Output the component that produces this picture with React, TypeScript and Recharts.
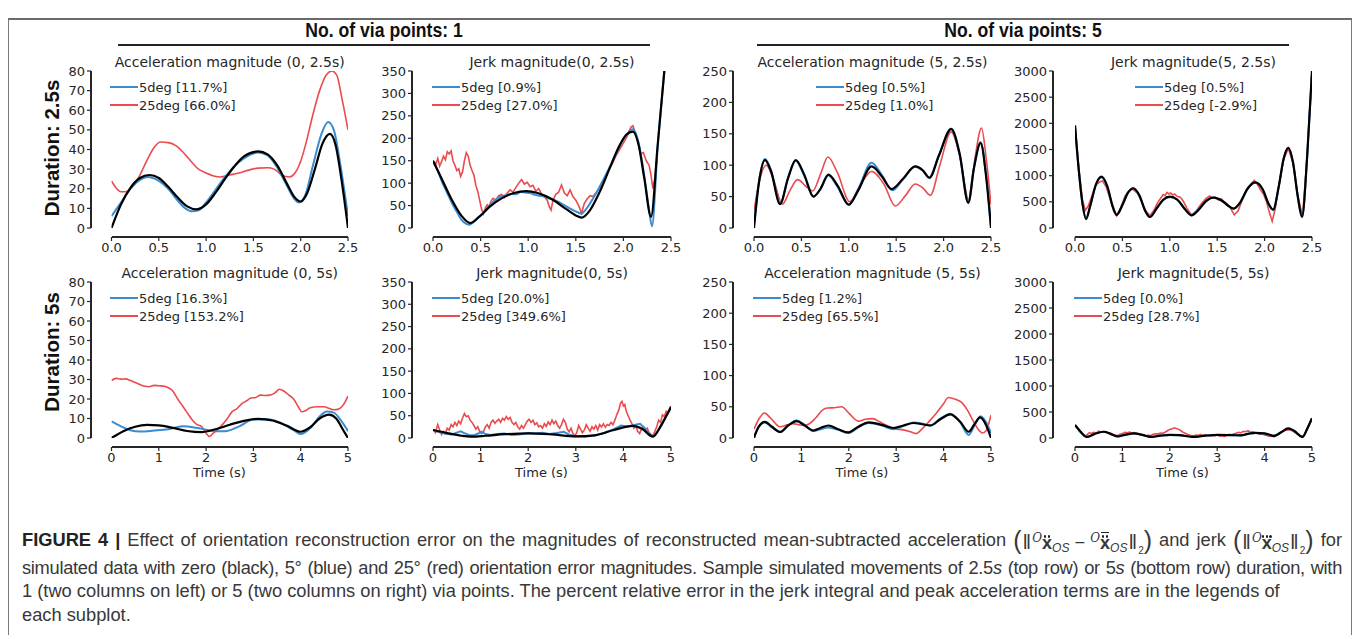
import React from 'react';
import { LineChart, Line, XAxis, YAxis, Legend } from 'recharts';

type Series = [number, number][];

// ---------- text ----------
const panelTitles = [
  'Acceleration magnitude (0, 2.5s)',
  'Jerk magnitude(0, 2.5s)',
  'Acceleration magnitude (5, 2.5s)',
  'Jerk magnitude(5, 2.5s)',
  'Acceleration magnitude (0, 5s)',
  'Jerk magnitude(0, 5s)',
  'Acceleration magnitude (5, 5s)',
  'Jerk magnitude(5, 5s)',
];
const blueLabels = ['5deg [11.7%]', '5deg [0.9%]', '5deg [0.5%]', '5deg [0.5%]', '5deg [16.3%]', '5deg [20.0%]', '5deg [1.2%]', '5deg [0.0%]'];
const redLabels = ['25deg [66.0%]', '25deg [27.0%]', '25deg [1.0%]', '25deg [-2.9%]', '25deg [153.2%]', '25deg [349.6%]', '25deg [65.5%]', '25deg [28.7%]'];
const headers = ['No. of via points: 1', 'No. of via points: 5'];
const rowLabels = ['Duration: 2.5s', 'Duration: 5s'];

// ---------- ticks ----------
const xTicksShort = [0, 0.5, 1, 1.5, 2, 2.5];
const xTicksLong = [0, 1, 2, 3, 4, 5];
const yTicksAcc1 = [0, 10, 20, 30, 40, 50, 60, 70, 80];
const yTicksJerk1 = [0, 50, 100, 150, 200, 250, 300, 350];
const yTicksAcc5 = [0, 50, 100, 150, 200, 250];
const yTicksJerk5 = [0, 500, 1000, 1500, 2000, 2500, 3000];

// ---------- series: [time, value] ----------
// 1 via point, 2.5 s, acceleration
const acc1sZero: Series = [[0, 0], [0.1, 12], [0.2, 20.5], [0.3, 25.5], [0.4, 27], [0.5, 25.5], [0.6, 21], [0.7, 15.5], [0.8, 11], [0.9, 9.5], [1.0, 12], [1.1, 18], [1.2, 25], [1.3, 31.5], [1.4, 36.5], [1.55, 39], [1.65, 37.5], [1.75, 32], [1.85, 23], [1.93, 16], [2.0, 13.5], [2.07, 18], [2.15, 30], [2.23, 43], [2.31, 48], [2.37, 42], [2.43, 25], [2.5, 0]];
const acc1sBlue: Series = [[0, 6], [0.1, 13], [0.2, 20], [0.3, 24.5], [0.38, 26], [0.5, 24], [0.6, 20], [0.7, 14], [0.78, 10], [0.85, 8.5], [0.92, 9], [1.0, 13], [1.1, 19.5], [1.2, 26], [1.3, 31.5], [1.4, 35.5], [1.55, 38.5], [1.65, 37], [1.75, 31], [1.85, 22], [1.93, 15], [1.98, 13], [2.05, 17], [2.13, 32], [2.22, 48], [2.29, 54], [2.35, 50], [2.42, 32], [2.5, 6]];
const acc1sRed: Series = [[0, 24], [0.04, 21], [0.1, 18.5], [0.15, 18.5], [0.22, 21], [0.3, 27], [0.38, 35], [0.45, 41], [0.52, 43.8], [0.6, 43.5], [0.68, 42], [0.76, 38.5], [0.84, 34], [0.92, 30], [1.0, 28], [1.08, 26.5], [1.15, 26], [1.25, 27], [1.35, 28], [1.45, 29.5], [1.55, 30.5], [1.65, 30.7], [1.72, 30], [1.8, 27], [1.88, 26], [1.94, 28], [2.0, 34], [2.06, 44], [2.13, 58], [2.2, 70], [2.27, 78], [2.33, 80], [2.38, 78], [2.44, 65], [2.5, 50]];

// 1 via point, 2.5 s, jerk
const jerk1sZero: Series = [[0, 150], [0.1, 106], [0.2, 62], [0.3, 27], [0.39, 11], [0.48, 24], [0.6, 48], [0.72, 66], [0.85, 78], [0.98, 82], [1.1, 78], [1.25, 64], [1.4, 42], [1.5, 28], [1.56, 23], [1.65, 40], [1.75, 80], [1.85, 130], [1.95, 180], [2.03, 208], [2.1, 215], [2.16, 185], [2.22, 110], [2.29, 25], [2.36, 185], [2.43, 350]];
const jerk1sBlue: Series = [[0, 148], [0.05, 128], [0.1, 100], [0.15, 78], [0.2, 55], [0.25, 36], [0.3, 18], [0.35, 9], [0.38, 7], [0.42, 12], [0.47, 22], [0.52, 32], [0.57, 45], [0.62, 56], [0.67, 65], [0.72, 71], [0.77, 73], [0.82, 76], [0.87, 75], [0.92, 80], [0.97, 79], [1.02, 78], [1.07, 74], [1.12, 72], [1.17, 70], [1.22, 66], [1.27, 63], [1.32, 58], [1.37, 52], [1.42, 46], [1.47, 40], [1.52, 35], [1.56, 32], [1.6, 40], [1.65, 55], [1.72, 80], [1.8, 112], [1.9, 155], [2.0, 198], [2.1, 220], [2.16, 190], [2.22, 115], [2.27, 40], [2.3, 4], [2.36, 180], [2.43, 350]];
const jerk1sRed: Series = [[0, 150], [0.03, 142], [0.05, 155], [0.07, 138], [0.09, 148], [0.11, 160], [0.13, 152], [0.15, 170], [0.17, 165], [0.19, 172], [0.21, 150], [0.23, 140], [0.25, 128], [0.27, 132], [0.29, 115], [0.31, 125], [0.33, 150], [0.35, 168], [0.37, 160], [0.39, 140], [0.41, 128], [0.43, 118], [0.45, 95], [0.47, 82], [0.49, 62], [0.51, 42], [0.53, 32], [0.55, 45], [0.57, 52], [0.59, 48], [0.61, 60], [0.63, 66], [0.66, 62], [0.69, 72], [0.72, 75], [0.75, 68], [0.78, 78], [0.81, 85], [0.84, 80], [0.87, 90], [0.9, 100], [0.93, 108], [0.96, 98], [0.99, 102], [1.02, 92], [1.05, 95], [1.08, 82], [1.11, 88], [1.14, 76], [1.17, 70], [1.2, 62], [1.22, 48], [1.24, 40], [1.26, 62], [1.29, 75], [1.32, 80], [1.35, 96], [1.38, 78], [1.41, 72], [1.44, 85], [1.47, 70], [1.5, 62], [1.53, 50], [1.56, 33], [1.59, 55], [1.62, 65], [1.65, 72], [1.68, 70], [1.71, 78], [1.74, 85], [1.77, 98], [1.8, 110], [1.84, 128], [1.88, 142], [1.92, 160], [1.96, 175], [2.0, 190], [2.04, 205], [2.08, 225], [2.1, 228], [2.12, 215], [2.15, 195], [2.18, 165], [2.21, 168], [2.24, 150], [2.27, 140], [2.29, 118], [2.31, 88], [2.33, 110], [2.35, 150]];

// 5 via points, 2.5 s, acceleration
const acc5sZero: Series = [[0, 0], [0.05, 70], [0.116, 108], [0.18, 90], [0.275, 38], [0.36, 80], [0.44, 108], [0.53, 85], [0.627, 50], [0.7, 62], [0.785, 85], [0.88, 68], [1.0, 37], [1.1, 60], [1.24, 98], [1.35, 82], [1.45, 62], [1.57, 78], [1.7, 98], [1.78, 92], [1.85, 80], [1.95, 115], [2.08, 158], [2.17, 118], [2.26, 40], [2.32, 95], [2.39, 135], [2.45, 80], [2.5, 0]];
const acc5sBlue: Series = [[0, 5], [0.05, 72], [0.116, 110], [0.18, 92], [0.275, 40], [0.36, 80], [0.44, 107], [0.53, 83], [0.627, 50], [0.7, 62], [0.785, 84], [0.88, 66], [1.0, 37], [1.1, 62], [1.24, 104], [1.35, 84], [1.46, 60], [1.57, 77], [1.7, 98], [1.78, 91], [1.85, 80], [1.95, 116], [2.08, 157], [2.17, 116], [2.26, 42], [2.32, 96], [2.39, 137], [2.45, 82], [2.5, 2]];
const acc5sRed: Series = [[0, 27], [0.05, 70], [0.13, 100], [0.2, 80], [0.3, 38], [0.38, 60], [0.46, 77], [0.55, 66], [0.62, 59], [0.7, 85], [0.78, 113], [0.88, 88], [1.01, 42], [1.12, 68], [1.24, 90], [1.37, 70], [1.49, 35], [1.6, 52], [1.7, 70], [1.78, 64], [1.86, 52], [1.96, 100], [2.08, 153], [2.17, 115], [2.27, 42], [2.33, 110], [2.4, 159], [2.45, 110], [2.5, 37]];

// 5 via points, 2.5 s, jerk
const jerk5sZero: Series = [[0, 1960], [0.04, 1100], [0.08, 450], [0.116, 170], [0.16, 420], [0.22, 830], [0.28, 980], [0.34, 800], [0.4, 400], [0.44, 250], [0.5, 440], [0.56, 680], [0.614, 760], [0.68, 620], [0.74, 330], [0.79, 210], [0.86, 370], [0.93, 540], [1.0, 600], [1.08, 540], [1.16, 360], [1.23, 240], [1.3, 340], [1.38, 510], [1.46, 580], [1.55, 520], [1.62, 420], [1.675, 370], [1.74, 480], [1.82, 750], [1.9, 870], [1.98, 740], [2.04, 470], [2.09, 350], [2.15, 800], [2.2, 1320], [2.25, 1530], [2.3, 1250], [2.35, 600], [2.395, 210], [2.45, 1400], [2.5, 3000]];
const jerk5sBlue: Series = [[0, 1950], [0.04, 1100], [0.08, 460], [0.116, 180], [0.16, 420], [0.22, 820], [0.28, 970], [0.34, 790], [0.4, 400], [0.44, 255], [0.5, 440], [0.56, 670], [0.614, 755], [0.68, 615], [0.74, 330], [0.79, 215], [0.86, 370], [0.93, 530], [1.0, 590], [1.08, 540], [1.16, 360], [1.23, 245], [1.3, 345], [1.38, 515], [1.46, 585], [1.55, 520], [1.62, 420], [1.675, 375], [1.74, 480], [1.82, 745], [1.9, 865], [1.98, 735], [2.04, 470], [2.09, 345], [2.15, 800], [2.2, 1315], [2.25, 1525], [2.3, 1245], [2.35, 600], [2.395, 215], [2.45, 1400], [2.5, 2990]];
const jerk5sRed: Series = [[0, 1960], [0.04, 1150], [0.08, 520], [0.11, 340], [0.14, 420], [0.18, 620], [0.22, 820], [0.26, 880], [0.29, 900], [0.33, 780], [0.37, 560], [0.41, 310], [0.44, 230], [0.48, 380], [0.53, 620], [0.58, 720], [0.61, 740], [0.66, 660], [0.71, 480], [0.75, 320], [0.79, 240], [0.83, 330], [0.87, 480], [0.9, 560], [0.93, 640], [0.95, 620], [0.97, 680], [0.99, 650], [1.01, 670], [1.03, 630], [1.05, 650], [1.08, 600], [1.11, 590], [1.14, 520], [1.18, 380], [1.23, 250], [1.28, 330], [1.33, 460], [1.38, 560], [1.42, 610], [1.45, 570], [1.48, 590], [1.51, 540], [1.54, 560], [1.57, 510], [1.6, 470], [1.64, 380], [1.68, 250], [1.72, 330], [1.77, 560], [1.82, 760], [1.86, 850], [1.89, 910], [1.92, 850], [1.96, 720], [1.99, 640], [2.02, 500], [2.05, 300], [2.08, 130], [2.11, 350], [2.15, 800], [2.2, 1300], [2.25, 1520], [2.3, 1240], [2.35, 620], [2.4, 220], [2.45, 1400], [2.5, 3000]];

// 1 via point, 5 s, acceleration
const acc1lZero: Series = [[0, 0], [0.25, 3.5], [0.5, 5.8], [0.75, 6.7], [1.0, 6.5], [1.3, 5.2], [1.6, 3.6], [1.9, 3.0], [2.2, 4.5], [2.5, 6.8], [2.8, 8.8], [3.1, 9.8], [3.4, 9.0], [3.7, 6.4], [4.0, 3.2], [4.2, 5.5], [4.4, 10], [4.6, 12], [4.75, 10], [4.9, 4], [5.0, 0]];
const acc1lBlue: Series = [[0, 8.5], [0.2, 6], [0.4, 4], [0.6, 3.3], [0.9, 3.8], [1.2, 4.5], [1.5, 6], [1.8, 5.2], [2.0, 4.3], [2.2, 3.5], [2.4, 3.5], [2.7, 6], [3.0, 9.5], [3.3, 9.6], [3.6, 7.5], [3.85, 4], [4.0, 2], [4.2, 5], [4.4, 11], [4.55, 13.6], [4.7, 13], [4.85, 9], [5.0, 3.5]];
const acc1lRed: Series = [[0, 29.5], [0.1, 30.6], [0.2, 30.2], [0.3, 30.3], [0.4, 29.5], [0.55, 28], [0.7, 26.5], [0.8, 26.3], [0.9, 27], [1.0, 26.8], [1.1, 26.6], [1.2, 25.8], [1.3, 24], [1.4, 20], [1.5, 16.5], [1.6, 13], [1.7, 9.5], [1.8, 7], [1.9, 6], [1.95, 4.5], [2.0, 2.5], [2.07, 0.8], [2.15, 2.5], [2.25, 4.5], [2.35, 7], [2.45, 10], [2.55, 13.5], [2.65, 15], [2.75, 17.5], [2.85, 19], [2.95, 20.5], [3.05, 20.8], [3.15, 22], [3.25, 21.8], [3.35, 22], [3.45, 23], [3.55, 25], [3.65, 24], [3.75, 22], [3.85, 20], [3.95, 16], [4.02, 13.5], [4.1, 14], [4.2, 15.5], [4.35, 16], [4.5, 16], [4.6, 15.2], [4.7, 14.5], [4.8, 14.8], [4.9, 17], [5.0, 21.5]];

// 1 via point, 5 s, jerk
const jerk1lZero: Series = [[0, 18], [0.3, 11], [0.6, 5], [0.8, 3], [1.1, 5], [1.5, 8.5], [2.0, 10.5], [2.5, 8], [3.0, 3.5], [3.4, 6], [3.8, 18], [4.2, 27], [4.4, 20], [4.62, 3], [4.8, 30], [5.0, 70]];
const jerk1lBlue: Series = [[0, 18], [0.1, 14], [0.2, 11], [0.3, 9], [0.4, 8], [0.5, 12], [0.58, 15], [0.66, 11], [0.75, 7], [0.85, 6], [0.95, 10], [1.02, 14], [1.1, 9], [1.2, 7], [1.35, 9], [1.5, 10], [1.65, 7], [1.8, 8], [2.0, 11], [2.15, 10], [2.3, 12], [2.45, 9], [2.6, 11], [2.75, 14], [2.85, 8], [3.0, 4], [3.2, 3], [3.4, 6], [3.6, 12], [3.8, 20], [3.95, 28], [4.1, 26], [4.25, 30], [4.35, 32], [4.45, 22], [4.55, 8], [4.62, 4], [4.7, 12], [4.8, 28], [4.9, 50], [5.0, 68]];
const jerk1lRed: Series = [[0, 20], [0.05, 12], [0.1, 30], [0.14, 18], [0.18, 8], [0.22, 15], [0.26, 10], [0.3, 22], [0.34, 18], [0.38, 30], [0.42, 25], [0.46, 35], [0.5, 28], [0.54, 38], [0.58, 32], [0.62, 45], [0.66, 55], [0.7, 48], [0.74, 50], [0.78, 40], [0.82, 35], [0.86, 28], [0.9, 20], [0.94, 25], [0.98, 15], [1.02, 10], [1.06, 14], [1.1, 25], [1.14, 30], [1.18, 22], [1.22, 35], [1.26, 40], [1.3, 33], [1.34, 38], [1.38, 42], [1.42, 35], [1.46, 44], [1.5, 40], [1.54, 48], [1.58, 42], [1.62, 46], [1.66, 35], [1.7, 30], [1.74, 35], [1.78, 25], [1.82, 20], [1.86, 28], [1.9, 22], [1.94, 30], [1.98, 38], [2.02, 42], [2.06, 35], [2.1, 40], [2.14, 30], [2.18, 34], [2.22, 25], [2.26, 28], [2.3, 22], [2.34, 32], [2.38, 26], [2.42, 36], [2.46, 30], [2.5, 40], [2.54, 32], [2.58, 38], [2.62, 28], [2.66, 22], [2.7, 30], [2.74, 42], [2.78, 35], [2.82, 20], [2.86, 14], [2.9, 22], [2.94, 10], [2.98, 5], [3.02, 12], [3.06, 28], [3.1, 20], [3.14, 12], [3.18, 18], [3.22, 30], [3.26, 22], [3.3, 15], [3.34, 25], [3.38, 20], [3.42, 28], [3.46, 18], [3.5, 30], [3.54, 25], [3.58, 32], [3.62, 24], [3.66, 30], [3.7, 28], [3.74, 35], [3.78, 30], [3.82, 40], [3.86, 52], [3.9, 62], [3.94, 78], [3.97, 82], [4.0, 72], [4.03, 75], [4.06, 60], [4.1, 50], [4.14, 40], [4.18, 32], [4.22, 22], [4.26, 28], [4.3, 15], [4.34, 10], [4.38, 20], [4.42, 25], [4.46, 18], [4.5, 22], [4.54, 12], [4.58, 8], [4.62, 5], [4.66, 15], [4.7, 25], [4.74, 40], [4.78, 35], [4.82, 52], [4.86, 48], [4.9, 60], [4.94, 55], [4.98, 65], [5.0, 72]];

// 5 via points, 5 s, acceleration
const acc5lZero: Series = [[0, 0], [0.1, 18], [0.23, 26], [0.38, 18], [0.55, 9.6], [0.72, 20], [0.9, 27], [1.07, 20], [1.25, 12], [1.4, 16], [1.57, 20], [1.78, 14], [1.99, 9], [2.2, 18], [2.42, 25], [2.7, 21], [2.94, 16], [3.15, 20], [3.37, 24], [3.55, 22], [3.72, 20], [3.93, 30], [4.14, 38], [4.35, 26], [4.53, 10], [4.65, 22], [4.77, 33], [4.9, 20], [5.0, 0]];
const acc5lBlue: Series = [[0, 3], [0.1, 18], [0.23, 25], [0.38, 17], [0.55, 10], [0.72, 20], [0.9, 28], [1.07, 21], [1.25, 11], [1.4, 14], [1.57, 17], [1.78, 13], [1.99, 8], [2.2, 17], [2.42, 24], [2.7, 20], [2.94, 14], [3.15, 19], [3.37, 25], [3.55, 23], [3.72, 20], [3.93, 31], [4.14, 39], [4.35, 25], [4.53, 5], [4.65, 20], [4.78, 35], [4.9, 25], [5.0, 8]];
const acc5lRed: Series = [[0, 14], [0.1, 30], [0.22, 40], [0.35, 32], [0.55, 18], [0.7, 21], [0.82, 23], [0.95, 21], [1.05, 20], [1.15, 22], [1.3, 32], [1.45, 45], [1.55, 48], [1.7, 48.5], [1.85, 50], [2.0, 40], [2.2, 27], [2.35, 30], [2.5, 31], [2.65, 26], [2.8, 20], [2.95, 15], [3.15, 13], [3.3, 10], [3.42, 7], [3.55, 15], [3.7, 27], [3.85, 40], [4.0, 55], [4.1, 65], [4.25, 62], [4.38, 57], [4.5, 45], [4.62, 28], [4.75, 12], [4.82, 8], [4.9, 12], [5.0, 37]];

// 5 via points, 5 s, jerk
const jerk5lZero: Series = [[0, 250], [0.12, 120], [0.25, 20], [0.42, 80], [0.6, 120], [0.75, 80], [0.9, 30], [1.05, 60], [1.25, 90], [1.42, 60], [1.6, 20], [1.8, 45], [2.0, 60], [2.2, 55], [2.5, 20], [2.75, 45], [3.0, 60], [3.3, 55], [3.5, 50], [3.65, 80], [3.8, 100], [4.0, 90], [4.2, 40], [4.35, 110], [4.5, 185], [4.62, 140], [4.8, 20], [4.9, 180], [5.0, 380]];
const jerk5lBlue: Series = [[0, 245], [0.12, 118], [0.25, 22], [0.42, 82], [0.6, 118], [0.75, 78], [0.9, 32], [1.05, 62], [1.25, 88], [1.42, 58], [1.6, 22], [1.8, 47], [2.0, 60], [2.2, 52], [2.5, 22], [2.75, 47], [3.0, 58], [3.3, 55], [3.5, 52], [3.65, 80], [3.8, 98], [4.0, 88], [4.2, 42], [4.35, 108], [4.5, 182], [4.62, 138], [4.8, 22], [4.9, 180], [5.0, 375]];
const jerk5lRed: Series = [[0, 250], [0.1, 120], [0.2, 30], [0.25, 60], [0.3, 100], [0.35, 90], [0.4, 110], [0.45, 95], [0.5, 130], [0.55, 115], [0.6, 120], [0.65, 125], [0.7, 100], [0.75, 95], [0.8, 70], [0.85, 50], [0.9, 45], [0.95, 70], [1.0, 85], [1.05, 110], [1.1, 100], [1.15, 115], [1.2, 95], [1.25, 105], [1.3, 90], [1.35, 80], [1.4, 60], [1.45, 50], [1.5, 40], [1.55, 55], [1.6, 45], [1.65, 70], [1.7, 80], [1.75, 75], [1.8, 95], [1.85, 90], [1.9, 110], [1.95, 140], [2.0, 165], [2.05, 180], [2.1, 195], [2.15, 180], [2.2, 160], [2.25, 130], [2.3, 100], [2.35, 80], [2.4, 60], [2.45, 45], [2.5, 40], [2.55, 55], [2.6, 50], [2.65, 70], [2.7, 45], [2.75, 60], [2.8, 50], [2.85, 40], [2.9, 55], [2.95, 45], [3.0, 60], [3.05, 35], [3.1, 45], [3.15, 30], [3.2, 50], [3.25, 70], [3.3, 60], [3.35, 80], [3.4, 90], [3.45, 110], [3.5, 100], [3.55, 130], [3.6, 120], [3.65, 140], [3.7, 110], [3.75, 120], [3.8, 100], [3.85, 90], [3.9, 70], [3.95, 80], [4.0, 60], [4.05, 50], [4.1, 30], [4.15, 40], [4.2, 20], [4.25, 50], [4.3, 80], [4.35, 110], [4.4, 140], [4.45, 150], [4.5, 160], [4.55, 155], [4.6, 130], [4.65, 100], [4.7, 70], [4.75, 40], [4.8, 20], [4.85, 80], [4.9, 180], [4.95, 280], [5.0, 380]];

// ---------- styling / layout ----------
const BLUE = '#3a8bd0';
const RED = '#ea4b4e';
const INK = '#262626';
const FONT = '"DejaVu Sans", Verdana, sans-serif';
const CAP_FONT = '"Liberation Sans", Arial, sans-serif';
const SPINE_GAP = 9;
const Y_AXIS_W = 44;
const M_TOP = 6;
const M_RIGHT = 22;

const COLS = [
  { spine: 91, x0: 111.5, x1: 348 },
  { spine: 412, x0: 433, x1: 671 },
  { spine: 733, x0: 754, x1: 991 },
  { spine: 1053, x0: 1075, x1: 1312 },
];
const ROWS = [
  { top: 71, base: 228, titleY: 62, legendY: 87, legendX: [110, 432, 816, 1135], axisH: 30 },
  { top: 282, base: 438, titleY: 273, legendY: 298, legendX: [110, 432, 753, 1074], axisH: 40 },
];

interface PanelSpec {
  zero: Series;
  blue: Series;
  red: Series;
  yMax: number;
  yTicks: number[];
  noisyRed: boolean;
  noisyBlue: boolean;
}

const panels: PanelSpec[] = [
  { zero: acc1sZero, blue: acc1sBlue, red: acc1sRed, yMax: 80, yTicks: yTicksAcc1, noisyRed: false, noisyBlue: false },
  { zero: jerk1sZero, blue: jerk1sBlue, red: jerk1sRed, yMax: 350, yTicks: yTicksJerk1, noisyRed: true, noisyBlue: false },
  { zero: acc5sZero, blue: acc5sBlue, red: acc5sRed, yMax: 250, yTicks: yTicksAcc5, noisyRed: false, noisyBlue: false },
  { zero: jerk5sZero, blue: jerk5sBlue, red: jerk5sRed, yMax: 3000, yTicks: yTicksJerk5, noisyRed: true, noisyBlue: false },
  { zero: acc1lZero, blue: acc1lBlue, red: acc1lRed, yMax: 80, yTicks: yTicksAcc1, noisyRed: false, noisyBlue: false },
  { zero: jerk1lZero, blue: jerk1lBlue, red: jerk1lRed, yMax: 350, yTicks: yTicksJerk1, noisyRed: true, noisyBlue: true },
  { zero: acc5lZero, blue: acc5lBlue, red: acc5lRed, yMax: 250, yTicks: yTicksAcc5, noisyRed: false, noisyBlue: false },
  { zero: jerk5lZero, blue: jerk5lBlue, red: jerk5lRed, yMax: 3000, yTicks: yTicksJerk5, noisyRed: true, noisyBlue: false },
];

const toPts = (s: Series) => s.map(([t, v]) => ({ t, v }));

function PanelLegend({ blue, red }: { blue: string; red: string }) {
  const rows = [
    { label: blue, color: BLUE },
    { label: red, color: RED },
  ];
  return (
    <div>
      {rows.map((r) => (
        <div key={r.label} style={{ display: 'flex', alignItems: 'center', height: 18 }}>
          <svg width={28} height={4} style={{ display: 'block' }}>
            <line x1={0} y1={2} x2={28} y2={2} stroke={r.color} strokeWidth={2} />
          </svg>
          <span style={{ fontFamily: FONT, fontSize: 13, color: INK, marginLeft: 1, whiteSpace: 'nowrap' }}>{r.label}</span>
        </div>
      ))}
    </div>
  );
}

function Panel({ idx }: { idx: number }) {
  const spec = panels[idx];
  const col = COLS[idx % 4];
  const rowIdx = Math.floor(idx / 4);
  const row = ROWS[rowIdx];
  const isShort = rowIdx === 0;
  const xMax = isShort ? 2.5 : 5;

  const left = col.spine - Y_AXIS_W;
  const top = row.top - M_TOP;
  const plotH = row.base + SPINE_GAP - row.top;
  const width = Y_AXIS_W + (col.x1 - col.spine) + M_RIGHT;
  const height = M_TOP + plotH + row.axisH;
  const padLeft = col.x0 - col.spine;

  return (
    <>
      <div
        style={{
          position: 'absolute',
          left: col.x0 - 40,
          width: col.x1 - col.x0 + 80,
          top: row.titleY - 10,
          lineHeight: '20px',
          textAlign: 'center',
          fontFamily: FONT,
          fontSize: 14,
          color: INK,
          whiteSpace: 'nowrap',
        }}
      >
        {panelTitles[idx]}
      </div>
      <div style={{ position: 'absolute', left, top }}>
        <LineChart width={width} height={height} margin={{ top: M_TOP, right: M_RIGHT, bottom: 0, left: 0 }}>
          <XAxis
            dataKey="t"
            type="number"
            domain={[0, xMax]}
            ticks={isShort ? xTicksShort : xTicksLong}
            interval={0}
            allowDataOverflow
            padding={{ left: padLeft, right: 0 }}
            height={row.axisH}
            axisLine={false}
            tickSize={4}
            tickLine={{ stroke: INK, strokeWidth: 1.2 }}
            tick={{ fill: INK, fontSize: 13, fontFamily: FONT }}
            tickFormatter={(v: number) => (isShort ? v.toFixed(1) : String(v))}
            label={isShort ? undefined : { value: 'Time (s)', position: 'insideBottom', offset: 10, fill: INK, fontSize: 13, fontFamily: FONT }}
          />
          <YAxis
            type="number"
            domain={[0, spec.yMax]}
            ticks={spec.yTicks}
            interval={0}
            allowDataOverflow
            padding={{ top: 0, bottom: SPINE_GAP }}
            width={Y_AXIS_W}
            axisLine={false}
            tickSize={4}
            tickMargin={2}
            tickLine={{ stroke: INK, strokeWidth: 1.2 }}
            tick={{ fill: INK, fontSize: 13, fontFamily: FONT }}
          />
          <Legend
            layout="vertical"
            align="center"
            verticalAlign="middle"
            wrapperStyle={{ left: row.legendX[idx % 4] - left, top: row.legendY - 9 - top, width: 'auto' }}
            content={() => <PanelLegend blue={blueLabels[idx]} red={redLabels[idx]} />}
          />
          <Line
            data={toPts(spec.red)}
            dataKey="v"
            name={redLabels[idx]}
            type={spec.noisyRed ? 'linear' : 'monotone'}
            stroke={RED}
            strokeWidth={1.6}
            dot={false}
            activeDot={false}
            isAnimationActive={false}
          />
          <Line
            data={toPts(spec.blue)}
            dataKey="v"
            name={blueLabels[idx]}
            type={spec.noisyBlue ? 'linear' : 'monotone'}
            stroke={BLUE}
            strokeWidth={2}
            dot={false}
            activeDot={false}
            isAnimationActive={false}
          />
          <Line
            data={toPts(spec.zero)}
            dataKey="v"
            name="0deg"
            type="monotone"
            stroke="#000"
            strokeWidth={2.2}
            dot={false}
            activeDot={false}
            legendType="none"
            isAnimationActive={false}
          />
        </LineChart>
      </div>
      {/* offset, trimmed spines */}
      <div style={{ position: 'absolute', left: col.spine - 0.6, top: row.top, width: 1.2, height: row.base - row.top, background: INK }} />
      <div style={{ position: 'absolute', left: col.x0, top: row.base + SPINE_GAP - 0.6, width: col.x1 - col.x0, height: 1.2, background: INK }} />
    </>
  );
}

const capBase: React.CSSProperties = {
  position: 'absolute',
  left: 22,
  width: 1320,
  height: 22,
  lineHeight: '22px',
  fontFamily: CAP_FONT,
  fontSize: 18.3,
  color: '#383838',
  whiteSpace: 'nowrap',
};
const justified: React.CSSProperties = { whiteSpace: 'normal', textAlign: 'justify', textAlignLast: 'justify' };

// bold x with n dots (and optional bar) drawn above it
function Accent({ dots, bar }: { dots: number; bar?: boolean }) {
  return (
    <span style={{ position: 'relative', display: 'inline-block', fontWeight: 700, fontSize: 18 }}>
      x
      <span style={{ position: 'absolute', left: 0, right: 0, top: 3, display: 'flex', justifyContent: 'center', gap: 1.5 }}>
        {[0, 1, 2].slice(0, dots).map((d) => (
          <span key={d} style={{ width: 2.5, height: 2.5, borderRadius: 2, background: '#222' }} />
        ))}
      </span>
      {bar && <span style={{ position: 'absolute', left: 1, right: 1, top: -0.5, height: 1.5, background: '#222' }} />}
    </span>
  );
}

function Sym({ dots, bar }: { dots: number; bar?: boolean }) {
  return (
    <>
      <span style={{ fontSize: 12, fontStyle: 'italic', position: 'relative', top: -7, fontFamily: '"DejaVu Serif", serif' }}>O</span>
      <Accent dots={dots} bar={bar} />
      <span style={{ fontSize: 12, fontStyle: 'italic', position: 'relative', top: 3 }}>OS</span>
    </>
  );
}

function Norm({ children }: { children: React.ReactNode }) {
  return (
    <span style={{ display: 'inline-block', verticalAlign: 'top', whiteSpace: 'nowrap', lineHeight: '22px', height: 22 }}>
      <span style={{ fontSize: 25, fontWeight: 300, position: 'relative', top: 0 }}>(</span>
      <span style={{ fontSize: 21, margin: '0 1px' }}>‖</span>
      {children}
      <span style={{ fontSize: 21, margin: '0 1px' }}>‖</span>
      <span style={{ fontSize: 10, position: 'relative', top: 5 }}>2</span>
      <span style={{ fontSize: 25, fontWeight: 300, position: 'relative', top: 0 }}>)</span>
    </span>
  );
}

export default function App() {
  return (
    <div style={{ position: 'absolute', left: 0, top: 0, width: 1360, height: 635, background: '#fff', overflow: 'hidden' }}>
      {/* frame */}
      <div style={{ position: 'absolute', left: 8, top: 18, width: 1342, height: 630, borderTop: '2px solid #6a6a6a', borderLeft: '1.5px solid #7a7a7a', borderRight: '1.5px solid #7a7a7a' }} />

      {/* column headers */}
      {headers.map((h, i) => (
        <div key={h}>
          <div
            style={{
              position: 'absolute',
              left: i === 0 ? 118 : 757,
              width: 532,
              top: 18,
              lineHeight: '24px',
              textAlign: 'center',
              fontFamily: CAP_FONT,
              fontWeight: 700,
              fontSize: 20,
              color: '#111',
              transform: 'scaleX(0.88)',
            }}
          >
            {h}
          </div>
          <div style={{ position: 'absolute', left: i === 0 ? 118 : 757, top: 44, width: 532, height: 2, background: '#222' }} />
        </div>
      ))}

      {/* row labels */}
      {rowLabels.map((r, i) => (
        <div
          key={r}
          style={{
            position: 'absolute',
            left: 52,
            top: i === 0 ? 148 : 352,
            transform: 'translate(-50%, -50%) rotate(-90deg)',
            fontFamily: CAP_FONT,
            fontWeight: 700,
            fontSize: 20.5,
            color: '#111',
            whiteSpace: 'nowrap',
          }}
        >
          {r}
        </div>
      ))}

      {panels.map((_, i) => (
        <Panel key={i} idx={i} />
      ))}

      {/* caption */}
      <div style={{ ...capBase, ...justified, top: 529 }}>
        <b style={{ color: '#222' }}>FIGURE 4 |</b> Effect of orientation reconstruction error on the magnitudes of reconstructed mean-subtracted acceleration{' '}
        <Norm>
          <Sym dots={2} />
          <span> − </span>
          <Sym dots={2} bar />
        </Norm>{' '}
        and jerk{' '}
        <Norm>
          <Sym dots={3} />
        </Norm>{' '}
        for
      </div>
      <div style={{ ...capBase, ...justified, top: 557, letterSpacing: -0.3 }}>
        simulated data with zero (black), 5° (blue) and 25° (red) orientation error magnitudes. Sample simulated movements of 2.5<i>s</i> (top row) or 5<i>s</i> (bottom row) duration, with
      </div>
      <div style={{ ...capBase, top: 580 }}>
        1 (two columns on left) or 5 (two columns on right) via points. The percent relative error in the jerk integral and peak acceleration terms are in the legends of
      </div>
      <div style={{ ...capBase, top: 604 }}>each subplot.</div>
    </div>
  );
}
